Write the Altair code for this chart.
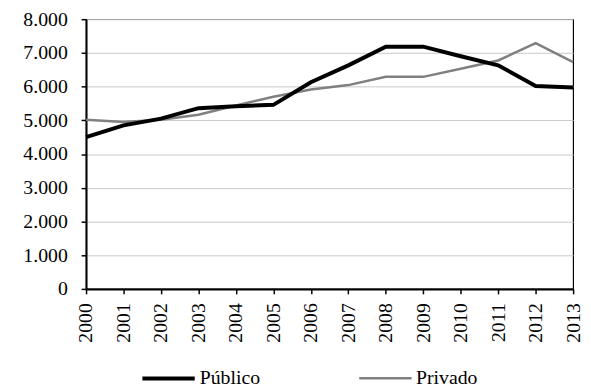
import altair as alt
import pandas as pd

years = [str(y) for y in range(2000, 2014)]
publico = [4500, 4850, 5050, 5360, 5420, 5460, 6130, 6630, 7185, 7185, 6900, 6630, 6020, 5975]
privado = [5020, 4950, 5020, 5165, 5440, 5700, 5915, 6045, 6290, 6290, 6530, 6775, 7290, 6725]
series = ["Público", "Privado"]
y_ticks = [0, 1000, 2000, 3000, 4000, 5000, 6000, 7000, 8000]

rows = []
for y, v in zip(years, privado):
    rows.append({"year": y, "value": v, "serie": "Privado"})
for y, v in zip(years, publico):
    rows.append({"year": y, "value": v, "serie": "Público"})
df = pd.DataFrame(rows)

FONT = "Liberation Serif"

leg = dict(title=None, orient="none", legendX=55, legendY=335,
           direction="horizontal", symbolType="stroke",
           symbolSize=2809, labelFont=FONT, labelFontSize=20,
           labelColor="black", labelOffset=3, columnPadding=94,
           labelLimit=0)

chart = alt.Chart(df).mark_line().encode(
    x=alt.X("year:O", scale=alt.Scale(type="point", padding=0),
            axis=alt.Axis(title=None, labelAngle=-90, labelPadding=9, tickSize=5,
                          grid=False)),
    y=alt.Y("value:Q", scale=alt.Scale(domain=[0, 8000], nice=False),
            axis=alt.Axis(title=None, values=y_ticks, tickSize=5, labelPadding=14,
                          labelExpr="replace(format(datum.value, ','), ',', '.')")),
    color=alt.Color("serie:N", scale=alt.Scale(domain=series, range=["#000000", "#808080"]),
                    legend=alt.Legend(**leg)),
    strokeWidth=alt.StrokeWidth("serie:N", scale=alt.Scale(domain=series, range=[4, 2.5]),
                                legend=alt.Legend(**leg)),
).properties(
    width=493, height=273,
    autosize=alt.AutoSizeParams(type="none"),
    padding={"left": 79, "top": 9, "right": 10, "bottom": 100},
).configure_view(
    stroke="black", strokeWidth=1.2
).configure_axis(
    labelFont=FONT, labelFontSize=20, labelColor="black",
    domainColor="black", domainWidth=2, tickColor="black", tickWidth=1.5,
    gridColor="#c8c8c8", gridWidth=1
)

chart.save("out.html", embed_options={"renderer": "svg", "actions": False})
